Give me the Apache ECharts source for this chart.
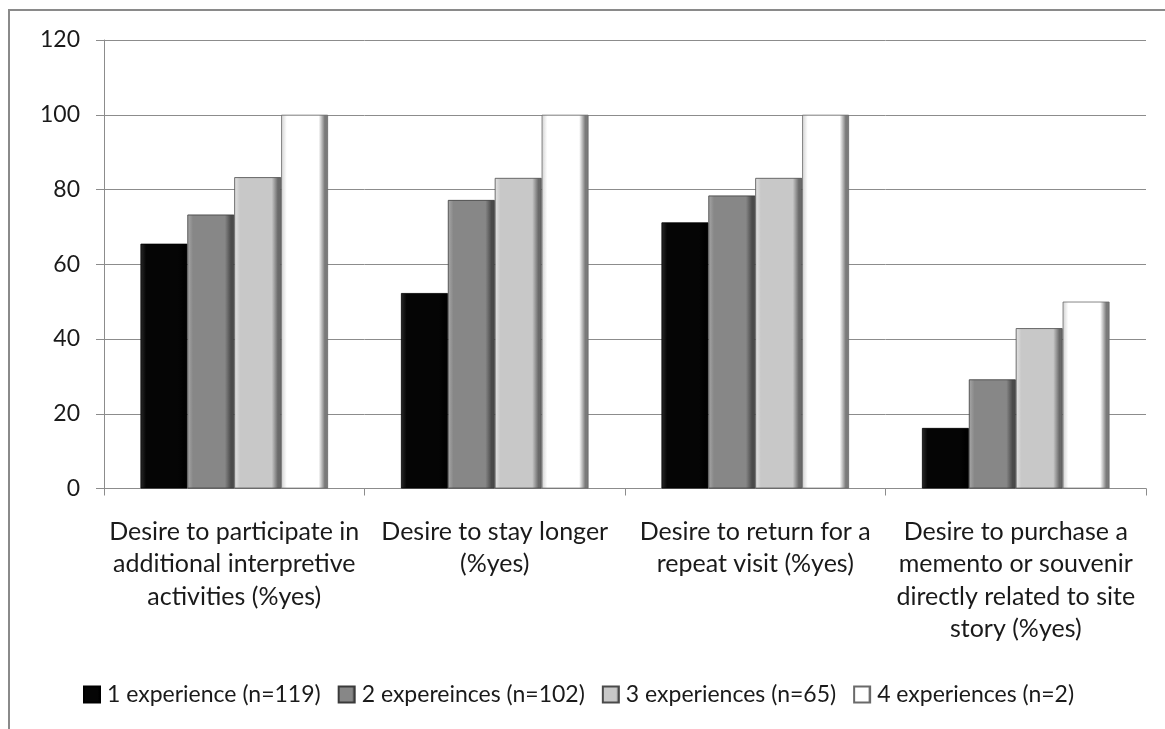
<!DOCTYPE html>
<html>
<head>
<meta charset="utf-8">
<script src="https://cdn.jsdelivr.net/npm/echarts@6/dist/echarts.min.js"></script>
<style>
html,body{margin:0;padding:0;background:#fff;}
#chart{width:1165px;height:729px;}
</style>
</head>
<body>
<div id="chart"></div>
<script>
const categories = [
  "Desire to participate in\nadditional interpretive\nactivities (%yes)",
  "Desire to stay longer\n(%yes)",
  "Desire to return for a\nrepeat visit (%yes)",
  "Desire to purchase a\nmemento or souvenir\ndirectly related to site\nstory (%yes)"
];
const seriesNames = [
  "1 experience (n=119)",
  "2 expereinces (n=102)",
  "3 experiences (n=65)",
  "4 experiences (n=2)"
];
const exp1 = [65.5, 52.3, 71.2, 16.2];
const exp2 = [73.3, 77.2, 78.4, 29.2];
const exp3 = [83.3, 83.1, 83.1, 42.9];
const exp4 = [100, 100, 100, 50];
const yTicks = [0, 20, 40, 60, 80, 100, 120];

const FONT = "Lato";
function grad(light, base, dark) {
  return new echarts.graphic.LinearGradient(0, 0, 1, 0, [
    {offset: 0, color: light},
    {offset: 0.12, color: base},
    {offset: 0.8, color: base},
    {offset: 0.93, color: dark},
    {offset: 1, color: dark}
  ]);
}
const styles = [
  {fill: grad('#2a2a2a', '#050505', '#000000'), border: '#000000'},
  {fill: grad('#a8a8a8', '#878787', '#4a4a4a'), border: '#3a3a3a'},
  {fill: grad('#e4e4e4', '#c8c8c8', '#6a6a6a'), border: '#4a4a4a'},
  {fill: grad('#d0d0d0', '#ffffff', '#7a7a7a'), border: '#6a6a6a'}
];
const dataSets = [exp1, exp2, exp3, exp4];

const chart = echarts.init(document.getElementById('chart'));
chart.setOption({
  animation: false,
  backgroundColor: '#ffffff',
  textStyle: {fontFamily: FONT},
  grid: {left: 104, right: 19, top: 40, bottom: 240.5, containLabel: false},
  legend: {
    left: 78, top: 678,
    itemWidth: 16, itemHeight: 16, itemGap: 17,
    icon: 'rect',
    textStyle: {fontFamily: FONT, fontSize: 23, color: '#1a1a1a', padding: [0, 0, 0, 2]},
    data: seriesNames
  },
  xAxis: {
    type: 'category',
    data: categories,
    axisLine: {lineStyle: {color: '#8c8c8c', width: 1}},
    axisTick: {show: true, length: 7, lineStyle: {color: '#8c8c8c'}},
    axisLabel: {fontFamily: FONT, fontSize: 25, color: '#1a1a1a', lineHeight: 32.5, margin: 27, interval: 0}
  },
  yAxis: {
    type: 'value',
    min: yTicks[0], max: yTicks[yTicks.length - 1], interval: 20,
    axisLine: {show: true, lineStyle: {color: '#8c8c8c', width: 1}},
    axisTick: {show: true, length: 8, lineStyle: {color: '#8c8c8c'}},
    splitLine: {lineStyle: {color: '#8c8c8c', width: 1}},
    axisLabel: {fontFamily: FONT, fontSize: 23, color: '#1a1a1a', margin: 24}
  },
  series: dataSets.map((d, i) => ({
    name: seriesNames[i],
    type: 'bar',
    data: d,
    barGap: '0%',
    barCategoryGap: '28%',
    itemStyle: {color: styles[i].fill, borderColor: styles[i].border, borderWidth: 0.8}
  })),
  graphic: [{
    type: 'polyline',
    shape: {points: [[9, 729], [9, 10], [1165, 10]]},
    style: {stroke: '#8a8a8a', lineWidth: 2, fill: null},
    silent: true
  }]
});
</script>
</body>
</html>
